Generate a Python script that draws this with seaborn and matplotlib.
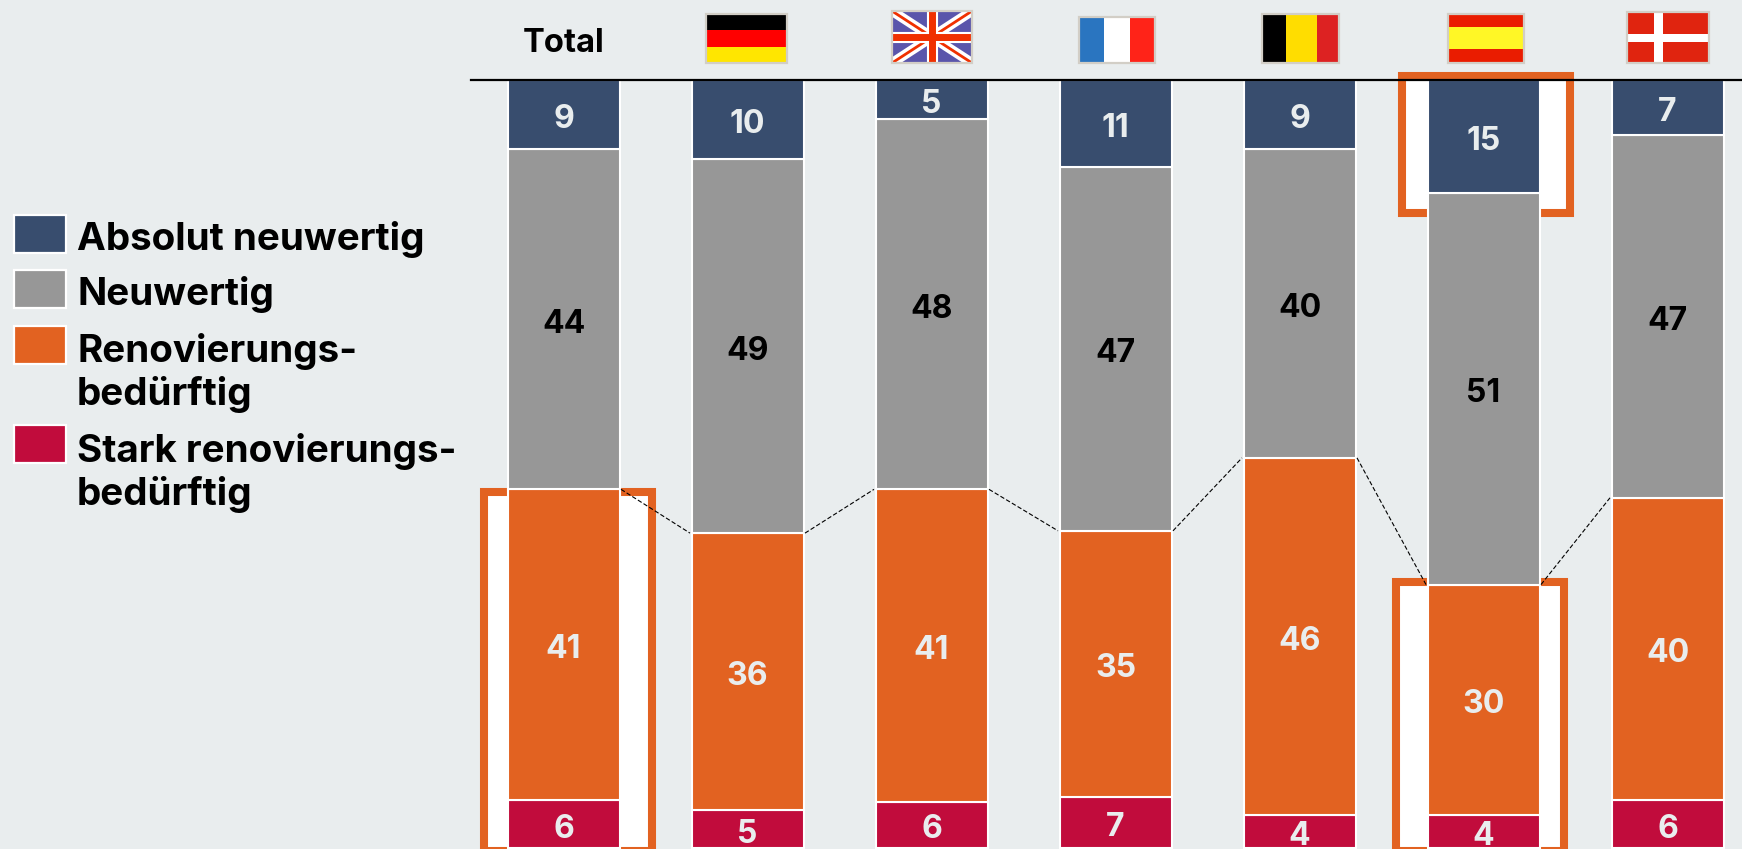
import matplotlib
matplotlib.use("Agg")
import matplotlib.pyplot as plt
import pandas as pd
import seaborn as sns
from matplotlib.patches import Rectangle
from matplotlib.lines import Line2D
from matplotlib.transforms import Affine2D

# ---------- data ----------
countries = ["Total", "Deutschland", "Großbritannien", "Frankreich", "Belgien", "Spanien", "Dänemark"]
series_names = ["Absolut neuwertig", "Neuwertig", "Renovierungs-\nbedürftig", "Stark renovierungs-\nbedürftig"]
absolut = [9.0, 10.3, 5.1, 11.3, 9.0, 14.7, 7.2]
neuwertig = [44.3, 48.7, 48.2, 47.4, 40.2, 51.0, 47.2]
renovierung = [40.5, 36.1, 40.7, 34.6, 46.5, 30.0, 39.4]
stark = [6.2, 4.9, 6.0, 6.7, 4.3, 4.3, 6.2]
label_absolut = [9, 10, 5, 11, 9, 15, 7]
label_neuwertig = [44, 49, 48, 47, 40, 51, 47]
label_renovierung = [41, 36, 41, 35, 46, 30, 40]
label_stark = [6, 5, 6, 7, 4, 4, 6]

BG = "#e9edee"
NAVY = "#384d6e"
GRAY = "#979797"
ORANGE = "#e26221"
RED = "#c10c3c"
LIGHT = "#e9edee"
FONT = "Inter"

W, H = 1742, 849
sns.set_theme(style="white")
plt.rcParams["font.family"] = [FONT, "DejaVu Sans"]
fig = plt.figure(figsize=(W / 100, H / 100), dpi=100, facecolor=BG)

STEP = 184.0      # px between bars
C0 = 563.5        # px centre of the first bar
UNIT = 7.68       # px per percent
BASE = 848.0      # px of the zero line
TOP = BASE - 100 * UNIT
ax = fig.add_axes([471 / W, 0, (W - 471) / W, (H - TOP) / H], facecolor="none")

# ---------- stacked bars ----------
df = pd.DataFrame({"land": countries, "absolut": absolut, "neuwertig": neuwertig,
                   "renovierung": renovierung, "stark": stark})
stack = [("stark", RED, label_stark, LIGHT),
         ("renovierung", ORANGE, label_renovierung, LIGHT),
         ("neuwertig", GRAY, label_neuwertig, "black"),
         ("absolut", NAVY, label_absolut, LIGHT)]
bottom = [0.0] * len(countries)
for col, colour, labels, tcol in stack:
    sns.barplot(data=df, x="land", y=col, order=countries, color=colour, saturation=1,
                width=112 / STEP, edgecolor="white", linewidth=1.5, bottom=bottom,
                errorbar=None, ax=ax, zorder=3)
    for i, (b, v, lab) in enumerate(zip(bottom, df[col], labels)):
        ax.annotate(str(lab), (i, b + v / 2), xytext=(0, -1), textcoords="offset points",
                    ha="center", va="center_baseline", color=tcol,
                    fontsize=23, fontweight="bold", zorder=5)
    if col == "renovierung":
        orange_top = [b + v for b, v in zip(bottom, df[col])]
    bottom = [b + v for b, v in zip(bottom, df[col])]

ax.set_xlim((471 - C0) / STEP, (W - C0) / STEP)
ax.set_ylim((BASE - H) / UNIT, 100)
ax.set(xlabel="", ylabel="", xticks=[], yticks=[])
sns.despine(ax=ax, left=True, bottom=True, right=True, top=False)
ax.spines["top"].set_color("black")
ax.spines["top"].set_linewidth(1.6)
ax.spines["top"].set_zorder(6)


# ---------- highlight frames (white inside, orange stroke) ----------
def frame(i, left_px, right_px, top_px, bottom_px):
    x0 = i + (left_px - C0 - STEP * i) / STEP
    x1 = i + (right_px - C0 - STEP * i) / STEP
    y0 = (BASE - bottom_px) / UNIT
    y1 = (BASE - top_px) / UNIT
    ax.add_patch(Rectangle((x0, y0), x1 - x0, y1 - y0, facecolor="white", edgecolor=ORANGE,
                           linewidth=5.8, joinstyle="miter", clip_on=False, zorder=1))


frame(0, 484, 652, 491.5, 851)
frame(5, 1396, 1564, 582, 851)
frame(5, 1402, 1570, 75.5, 213)

# ---------- dashed connectors ----------
half = 115 / STEP / 2
for i in range(len(countries) - 1):
    ax.plot([i + half, i + 1 - half], [orange_top[i], orange_top[i + 1]], color="black",
            linewidth=0.8, linestyle=(0, (4, 2)), zorder=4, clip_on=False)

# ---------- header row ----------
px = Affine2D().scale(1 / W, -1 / H).translate(0, 1) + fig.transFigure
fig.text(C0 / W, 1 - 44 / H, "Total", ha="center", va="center", fontsize=23.5,
         fontweight="bold", color="black")


def rect(x0, y0, x1, y1, colour, **kw):
    r = Rectangle((x0, y0), x1 - x0, y1 - y0, facecolor=colour, edgecolor=kw.pop("ec", "none"),
                  linewidth=kw.pop("lw", 0), transform=px, **kw)
    fig.add_artist(r)
    return r


def border(x0, y0, x1, y1):
    rect(x0, y0, x1, y1, "none", ec="#d2cec6", lw=1.6, zorder=4)


# Germany
x0, x1, y0, y1 = 706, 787, 14, 63
for k, c in enumerate(["#000000", "#ff0000", "#ffe600"]):
    rect(x0, y0 + k * (y1 - y0) / 3, x1, y0 + (k + 1) * (y1 - y0) / 3, c)
border(x0, y0, x1, y1)

# United Kingdom
x0, x1, y0, y1 = 892, 972, 11, 63
clip = rect(x0, y0, x1, y1, "#5a55ab")
for (a, b, c, d), col, lw in [((x0, y0, x1, y1), "white", 7), ((x0, y1, x1, y0), "white", 7),
                              ((x0, y0, x1, y1), "#f03000", 2), ((x0, y1, x1, y0), "#f03000", 2),
                              (((x0 + x1) / 2, y0, (x0 + x1) / 2, y1), "white", 8),
                              ((x0, (y0 + y1) / 2, x1, (y0 + y1) / 2), "white", 8),
                              (((x0 + x1) / 2, y0, (x0 + x1) / 2, y1), "#f03000", 5),
                              ((x0, (y0 + y1) / 2, x1, (y0 + y1) / 2), "#f03000", 5)]:
    line = Line2D([a, c], [b, d], color=col, linewidth=lw, transform=px, solid_capstyle="butt")
    fig.add_artist(line)
    line.set_clip_path(clip)
border(x0, y0, x1, y1)

# France
x0, x1, y0, y1 = 1079, 1155, 17, 63
rect(x0, y0, 1104, y1, "#2a75c0")
rect(1104, y0, 1130, y1, "#ffffff")
rect(1130, y0, x1, y1, "#ff2318")
border(x0, y0, x1, y1)

# Belgium
x0, x1, y0, y1 = 1262, 1339, 14, 63
rect(x0, y0, 1286, y1, "#000000")
rect(1286, y0, 1317, y1, "#ffdd00")
rect(1317, y0, x1, y1, "#dd2222")
border(x0, y0, x1, y1)

# Spain
x0, x1, y0, y1 = 1448, 1524, 14, 63
rect(x0, y0, x1, y1, "#ea1c00")
rect(x0, 27, x1, 49, "#fff726")
border(x0, y0, x1, y1)

# Denmark
x0, x1, y0, y1 = 1627, 1709, 12, 63
rect(x0, y0, x1, y1, "#e0240f")
rect(1654, y0, 1663, y1, "#ffffff")
rect(x0, 34, x1, 42, "#ffffff")
border(x0, y0, x1, y1)

# ---------- legend ----------
swatches = [(213, NAVY), (268, GRAY), (324, ORANGE), (424, RED)]
baselines = [250, 305, 405, 505]   # baseline of each label's last line
for (sy, colour), name, base in zip(swatches, series_names, baselines):
    rect(13.5, sy + 1.5, 65.5, sy + 39.5, colour, ec="white", lw=1.6)
    fig.text(77 / W, 1 - base / H, name, ha="left", va="baseline", fontsize=27.8,
             fontweight="bold", color="black", linespacing=1.2)

fig.savefig("out.png", dpi=100, facecolor=BG)
